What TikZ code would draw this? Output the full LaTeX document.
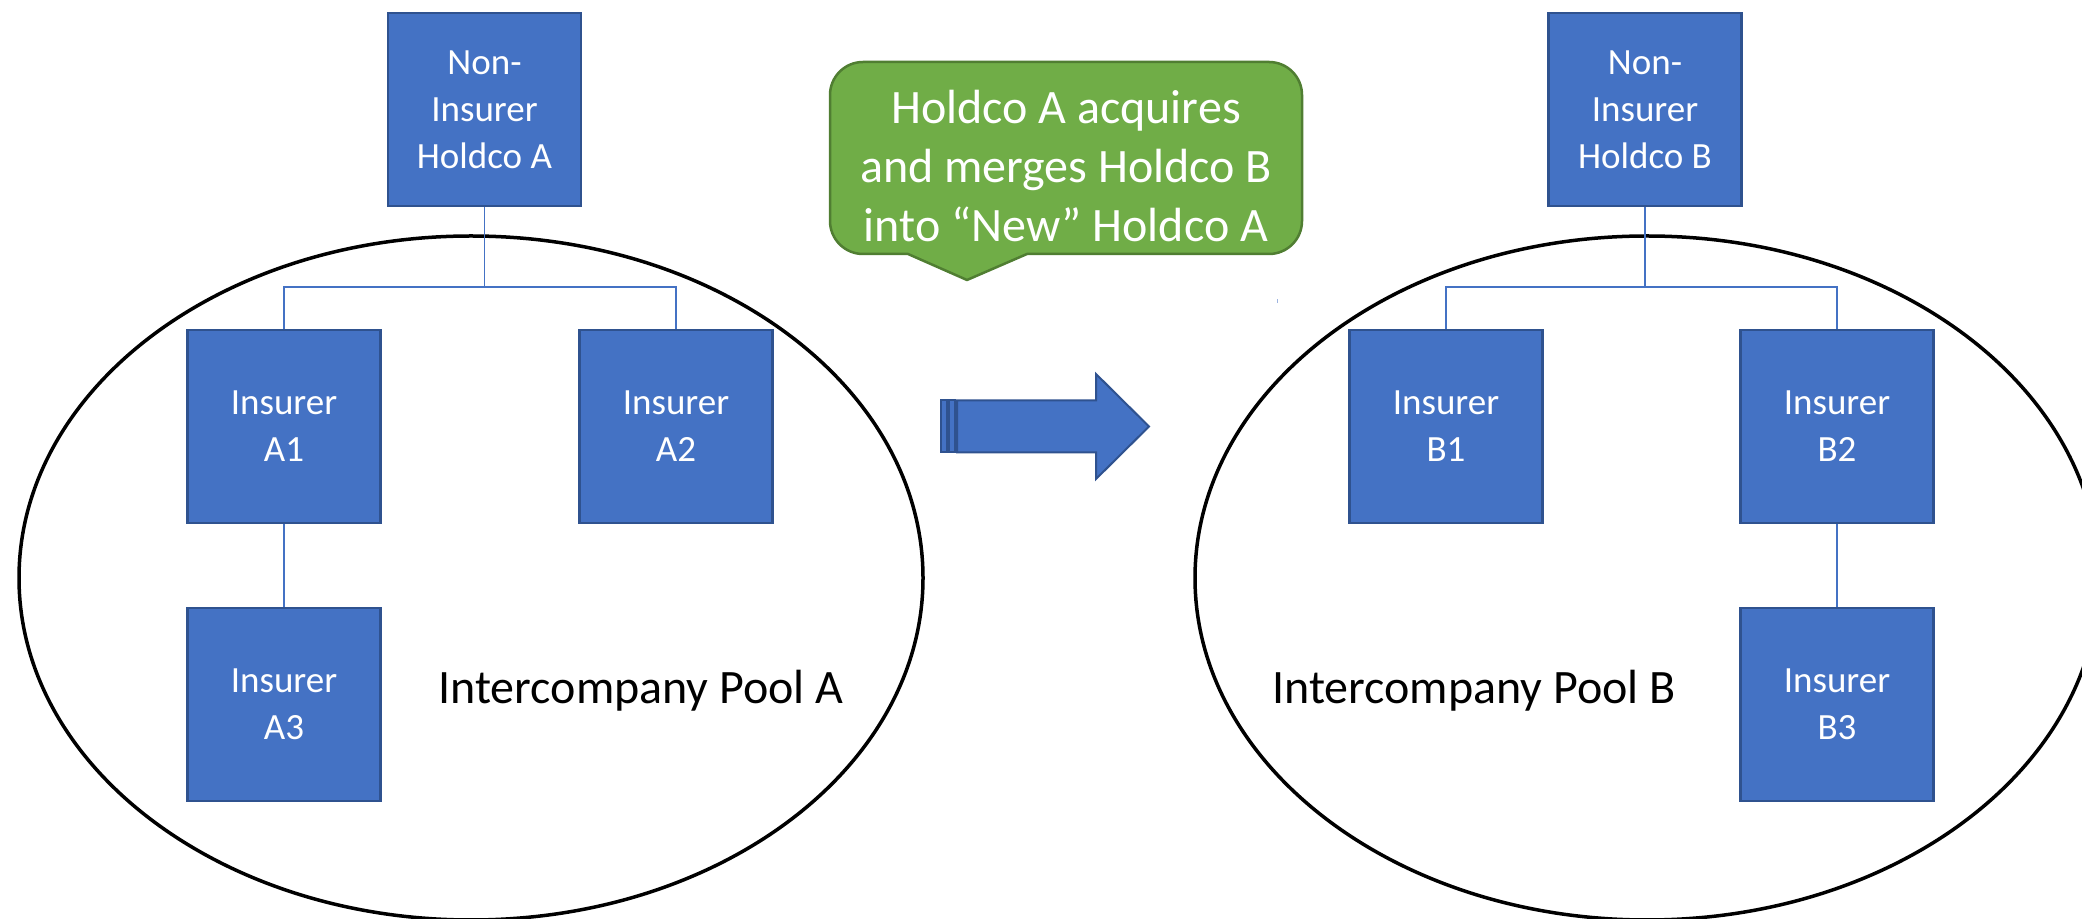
\documentclass[tikz,border=0pt]{standalone}
\usepackage{fontspec}
\setmainfont{Carlito}
\definecolor{boxfill}{HTML}{4472C4}
\definecolor{boxline}{HTML}{2F528F}
\definecolor{calfill}{HTML}{70AD47}
\definecolor{calline}{HTML}{507E32}
\definecolor{speck}{HTML}{9DB4E0}
\tikzset{
  company/.style={draw=boxline, line width=2.5pt, fill=boxfill, text=white,
    minimum width=193pt, minimum height=193pt, inner sep=0pt, align=center,
    font=\fontsize{37}{47}\selectfont},
  conn/.style={draw=boxfill, line width=1.6pt},
  pool/.style={draw=black, line width=3.5pt},
  pooltext/.style={font=\fontsize{48}{59}\selectfont, inner sep=0pt},
  calloutshape/.style={fill=calfill, draw=calline, line width=2.5pt, line join=round},
  stripe/.style={fill=boxfill, draw=boxline, line width=2pt}
}
\begin{document}
\begin{tikzpicture}[x=1pt,y=1pt]
\useasboundingbox (0,0) rectangle (2082,918);
% pools
\draw[pool] (471,340) ellipse [x radius=452, y radius=342];
\draw[pool] (1647,340) ellipse [x radius=452, y radius=342];
% companies A
\node[company] (hA) at (484.5,808.5) {Non-\\Insurer\\Holdco A};
\node[company] (a1) at (284,491.5) {Insurer\\A1};
\node[company] (a2) at (676,491.5) {Insurer\\A2};
\node[company] (a3) at (284,213.5) {Insurer\\A3};
% companies B
\node[company] (hB) at (1645,808.5) {Non-\\Insurer\\Holdco B};
\node[company] (b1) at (1446,491.5) {Insurer\\B1};
\node[company] (b2) at (1837,491.5) {Insurer\\B2};
\node[company] (b3) at (1837,213.5) {Insurer\\B3};
% connectors
\coordinate (jA) at (484.5,631);
\coordinate (jB) at (1645,631);
\draw[conn] (hA.south) -- (jA);
\draw[conn] (jA) -| (a1.north);
\draw[conn] (jA) -| (a2.north);
\draw[conn] (a1.south) -- (a3.north);
\draw[conn] (hB.south) -- (jB);
\draw[conn] (jB) -| (b1.north);
\draw[conn] (jB) -| (b2.north);
\draw[conn] (b2.south) -- (b3.north);
% pool labels
\node[pooltext, anchor=base] (pA) at (641,214) {Intercompany Pool A};
\node[pooltext, anchor=base] (pB) at (1474,214) {Intercompany Pool B};
% striped arrow
\draw[stripe] (941,465.5) rectangle (947,517.5);
\draw[stripe] (949,465.5) rectangle (955,517.5);
\draw[stripe, line join=miter] (957,465.5) -- (1096,465.5) -- (1096,439) -- (1149,491.5)
  -- (1096,544) -- (1096,517.5) -- (957,517.5) -- cycle;
% callout
\draw[calloutshape] (908,664) -- (863,664) arc[start angle=270, end angle=180, radius=33]
  -- (830,823) arc[start angle=180, end angle=90, radius=33]
  -- (1269,856) arc[start angle=90, end angle=0, radius=33]
  -- (1302,697) arc[start angle=0, end angle=-90, radius=33]
  -- (1027,664) -- (967,638) -- cycle;
\node[pooltext, text=white, align=center] (cl) at (1066,752)
  {Holdco A acquires\\and merges Holdco B\\into “New” Holdco A};
% tiny speck
\fill[speck] (1276.5,615) rectangle (1278,619);
\end{tikzpicture}
\end{document}
